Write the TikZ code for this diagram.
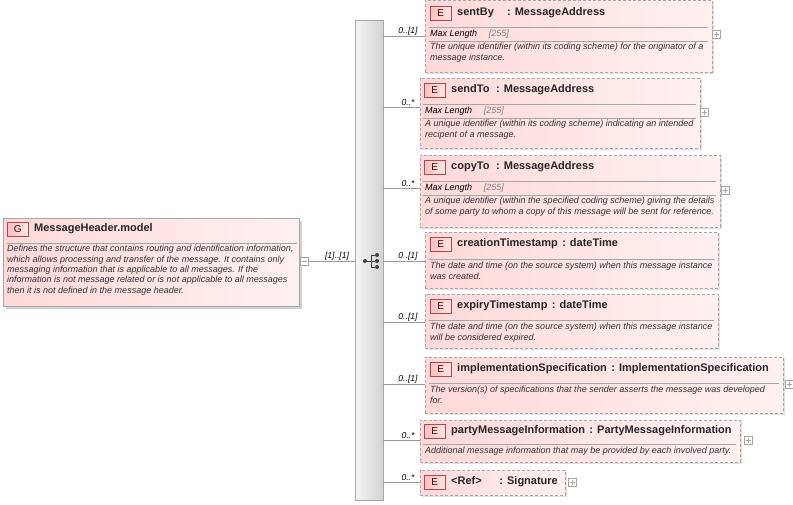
\documentclass[tikz,border=0pt]{standalone}
\usepackage{fontspec}
\setmainfont{Liberation Sans}
\usetikzlibrary{shadows}
\definecolor{bord}{HTML}{A8A8A8}
\definecolor{pinkA}{HTML}{FFD9D9}
\definecolor{pinkB}{HTML}{FFF0F0}
\tikzset{
  x=1pt,y=-1pt,
  ebox/.style={draw=bord,dashed,dash pattern=on 3pt off 2pt,left color=pinkA,right color=pinkB,
    general shadow={shadow xshift=2pt,shadow yshift=-2pt,fill=black!12},inner sep=0pt},
  gbox/.style={draw=bord,left color=pinkA,right color=pinkB,
    general shadow={shadow xshift=3pt,shadow yshift=-3pt,fill=black!18},inner sep=0pt},
  badge/.style={draw=red!45!gray,left color=red!25,right color=red!10,minimum width=21pt,minimum height=14pt,inner sep=0pt,font=\fontsize{10}{10}\selectfont,text=red!30!black},
  ttl/.style={font=\bfseries\fontsize{11}{12}\selectfont,anchor=west,inner sep=0pt,text=black!85},
  desc/.style={font=\itshape\fontsize{9}{10.4}\selectfont,anchor=north west,align=left,inner sep=0pt,text=black!80},
  mlen/.style={font=\fontsize{9}{10}\selectfont,anchor=west,inner sep=0pt},
  sep/.style={draw=gray!70},
  conn/.style={draw=gray!80},
  card/.style={font=\itshape\fontsize{8.6}{9}\selectfont,anchor=south,inner sep=1pt},
  pm/.style={draw=gray!70,fill=white,minimum size=8pt,inner sep=0pt},
  dot/.style={circle,fill=black!75,inner sep=0pt,minimum size=4pt},
}
\newcommand\pmplus[1]{\draw[gray!70] ([xshift=-2.5pt]#1.center) -- ([xshift=2.5pt]#1.center) ([yshift=-2.5pt]#1.center) -- ([yshift=2.5pt]#1.center);}
\begin{document}
\begin{tikzpicture}
\useasboundingbox (0,0) rectangle (793,504);
% group
\node[gbox,anchor=north west,minimum width=296pt,minimum height=88pt] (g) at (3,218) {};
\node[badge,anchor=west] (gb) at (7,229) {G};
\node[ttl] (gt) at (34,229) {MessageHeader.model};
\draw[sep] (7,243) -- (297,243);
\node[desc] (gd) at (7,245) {Defines the structure that contains routing and identification information,\\which allows processing and transfer of the message. It contains only\\messaging information that is applicable to all messages. If the\\information is not message related or is not applicable to all messages\\then it is not defined in the message header.};
\node[pm] (gm) at (304,261) {};
\draw[gray!70] ([xshift=-2.5pt]gm.center) -- ([xshift=2.5pt]gm.center);
% sequence bar
\node[draw=bord,left color=gray!8,right color=gray!35,anchor=north west,minimum width=28pt,minimum height=480pt,inner sep=0pt] (seq) at (355,20) {};
\draw[conn] (gm.east) -- (seq.west|-gm);
\node[card] at (337,261) {[1]..[1]};
% icon
\node[dot] (ic) at (365,261) {};
\node[dot] (i1) at (377,255) {};
\node[dot] (i2) at (377,261) {};
\node[dot] (i3) at (377,267) {};
\draw[black!75,line width=0.8pt] (ic) -- (371,261) (371,255) -- (371,267) (371,255) -- (i1) (371,261) -- (i2) (371,267) -- (i3);
% elements
% 1 sentBy
\node[ebox,anchor=north west,minimum width=287pt,minimum height=72pt] (e1) at (425,0) {};
\node[badge,anchor=west] (b1) at (430,13) {E};
\node[ttl] (t1) at (457,13) {sentBy\hspace{1.2em}: MessageAddress};
\draw[sep] (429,27) -- (708,27);
\node[mlen] (m1) at (430,34) {\itshape Max Length\hspace{1.3em}\color{gray}[255]};
\draw[sep] (429,41) -- (708,41);
\node[desc] (d1) at (430,43) {The unique identifier (within its coding scheme) for the originator of a\\message instance.};
\coordinate (l1) at (425,36);
\draw[conn] (seq.east|-l1) -- (l1);
\node[card] at (408,36) {0..[1]};
\node[pm] (p1) at (716,34) {}; \pmplus{p1}
% 2 sendTo
\node[ebox,anchor=north west,minimum width=280pt,minimum height=70pt] (e2) at (420,78) {};
\node[badge,anchor=west] (b2) at (424,90) {E};
\node[ttl] (t2) at (451,90) {sendTo\hspace{0.6em}: MessageAddress};
\draw[sep] (423,104) -- (696,104);
\node[mlen] (m2) at (425,111) {\itshape Max Length\hspace{1.3em}\color{gray}[255]};
\draw[sep] (423,118) -- (696,118);
\node[desc] (d2) at (425,120) {A unique identifier (within its coding scheme) indicating an intended\\recipent of a message.};
\coordinate (l2) at (420,107);
\draw[conn] (seq.east|-l2) -- (l2);
\node[card] at (408,107) {0..*};
\node[pm] (p2) at (704,112) {}; \pmplus{p2}
% 3 copyTo
\node[ebox,anchor=north west,minimum width=300pt,minimum height=72pt] (e3) at (420,155) {};
\node[badge,anchor=west] (b3) at (424,167) {E};
\node[ttl] (t3) at (451,167) {copyTo\hspace{0.6em}: MessageAddress};
\draw[sep] (423,181) -- (716,181);
\node[mlen] (m3) at (425,188) {\itshape Max Length\hspace{1.3em}\color{gray}[255]};
\draw[sep] (423,195) -- (716,195);
\node[desc] (d3) at (425,197) {A unique identifier (within the specified coding scheme) giving the details\\of some party to whom a copy of this message will be sent for reference.};
\coordinate (l3) at (420,188);
\draw[conn] (seq.east|-l3) -- (l3);
\node[card] at (408,188) {0..*};
\node[pm] (p3) at (725,190) {}; \pmplus{p3}
% 4 creationTimestamp
\node[ebox,anchor=north west,minimum width=293pt,minimum height=56pt] (e4) at (425,232) {};
\node[badge,anchor=west] (b4) at (430,244) {E};
\node[ttl] (t4) at (457,244) {creationTimestamp\hspace{0.4em}: dateTime};
\draw[sep] (429,259) -- (714,259);
\node[desc] (d4) at (430,262) {The date and time (on the source system) when this message instance\\was created.};
\coordinate (l4) at (425,261);
\draw[conn] (seq.east|-l4) -- (l4);
\node[card] at (408,261) {0..[1]};
% 5 expiryTimestamp
\node[ebox,anchor=north west,minimum width=293pt,minimum height=54pt] (e5) at (425,294) {};
\node[badge,anchor=west] (b5) at (430,306) {E};
\node[ttl] (t5) at (457,306) {expiryTimestamp\hspace{0.4em}: dateTime};
\draw[sep] (429,320) -- (714,320);
\node[desc] (d5) at (430,323) {The date and time (on the source system) when this message instance\\will be considered expired.};
\coordinate (l5) at (425,322);
\draw[conn] (seq.east|-l5) -- (l5);
\node[card] at (408,322) {0..[1]};
% 6 implementationSpecification
\node[ebox,anchor=north west,minimum width=358pt,minimum height=56pt] (e6) at (425,357) {};
\node[badge,anchor=west] (b6) at (430,369) {E};
\node[ttl] (t6) at (457,369) {implementationSpecification\hspace{0.4em}: ImplementationSpecification};
\draw[sep] (429,383) -- (779,383);
\node[desc] (d6) at (430,386) {The version(s) of specifications that the sender asserts the message was developed\\for.};
\coordinate (l6) at (425,384);
\draw[conn] (seq.east|-l6) -- (l6);
\node[card] at (408,384) {0..[1]};
\node[pm] (p6) at (789,384) {}; \pmplus{p6}
% 7 partyMessageInformation
\node[ebox,anchor=north west,minimum width=320pt,minimum height=42pt] (e7) at (420,420) {};
\node[badge,anchor=west] (b7) at (424,431) {E};
\node[ttl] (t7) at (451,431) {partyMessageInformation\hspace{0.4em}: PartyMessageInformation};
\draw[sep] (423,444) -- (736,444);
\node[desc] (d7) at (425,447) {Additional message information that may be provided by each involved party.};
\coordinate (l7) at (420,440);
\draw[conn] (seq.east|-l7) -- (l7);
\node[card] at (408,440) {0..*};
\node[pm] (p7) at (748,440) {}; \pmplus{p7}
% 8 Signature
\node[ebox,anchor=north west,minimum width=145pt,minimum height=25pt] (e8) at (420,470) {};
\node[badge,anchor=west] (b8) at (424,482) {E};
\node[ttl] (t8) at (451,482) {<Ref>\hspace{1.6em}: Signature};
\coordinate (l8) at (420,482);
\draw[conn] (seq.east|-l8) -- (l8);
\node[card] at (408,482) {0..*};
\node[pm] (p8) at (572,482) {}; \pmplus{p8}
\end{tikzpicture}
\end{document}
